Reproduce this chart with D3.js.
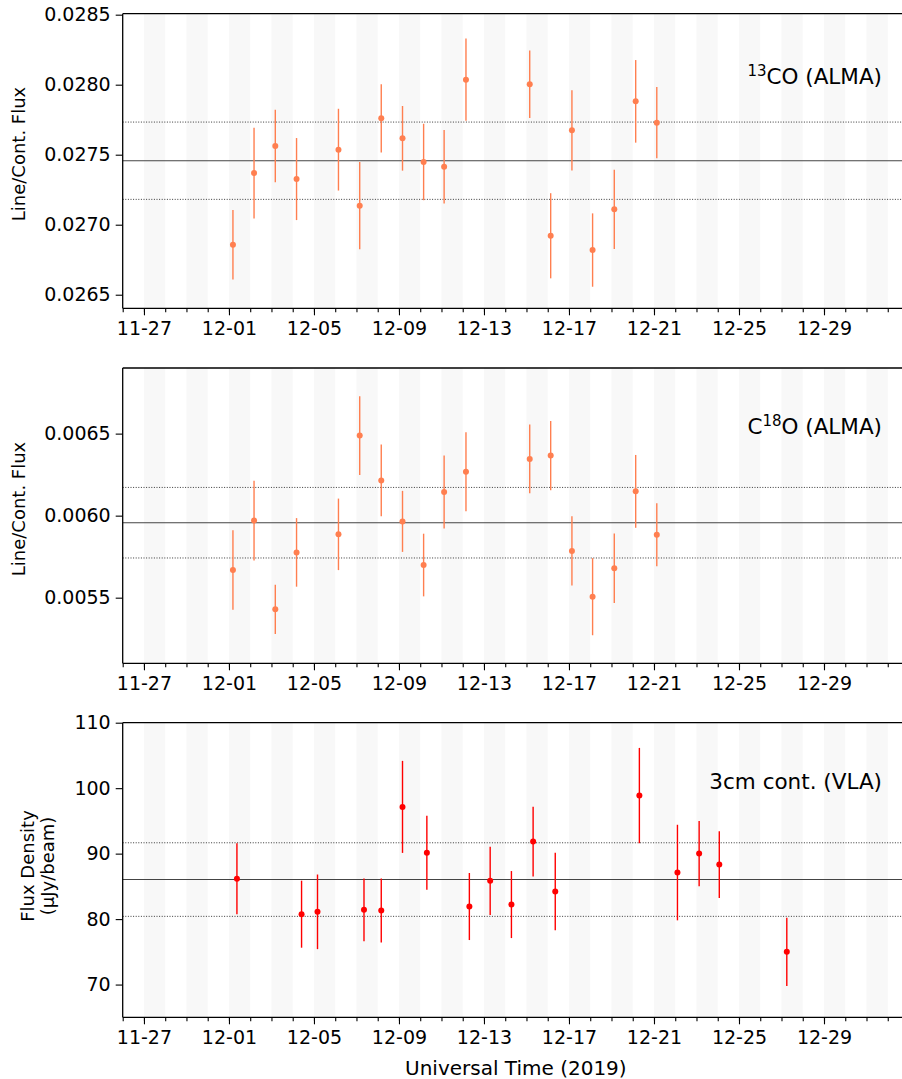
<!DOCTYPE html>
<html><head><meta charset="utf-8">
<script src="https://cdn.jsdelivr.net/npm/d3@7"></script>
<style>
html,body{margin:0;padding:0;background:#fff;}
svg{display:block;font-family:"DejaVu Sans",sans-serif;}
</style></head>
<body><svg id="chart" width="902" height="1079"></svg>
<script>
// ---------- data ----------
const almaDates = ["2019-12-01T04:30","2019-12-02T04:20","2019-12-03T04:20","2019-12-04T04:20",
  "2019-12-06T03:40","2019-12-07T03:40","2019-12-08T04:00","2019-12-09T04:00","2019-12-10T03:50",
  "2019-12-11T03:00","2019-12-12T03:40","2019-12-15T03:40","2019-12-16T03:20","2019-12-17T03:20",
  "2019-12-18T02:40","2019-12-19T03:10","2019-12-20T03:20","2019-12-21T03:10"];
const co13Values = [0.026857,0.027369,0.027562,0.027326,0.027536,0.027136,0.027760,0.027617,0.027448,
  0.027414,0.028036,0.028003,0.026921,0.027674,0.026819,0.027110,0.027881,0.027729];
const co13Errors = [0.000248,0.000324,0.000259,0.000293,0.000292,0.000312,0.000244,0.000231,0.000273,
  0.000263,0.000293,0.000241,0.000304,0.000287,0.000262,0.000283,0.000295,0.000254];
const c18oValues = [0.005669,0.005970,0.005429,0.005776,0.005886,0.006488,0.006215,0.005965,0.005699,
  0.006144,0.006268,0.006346,0.006366,0.005785,0.005506,0.005679,0.006148,0.005884];
const c18oErrors = [0.000242,0.000243,0.000150,0.000209,0.000218,0.000240,0.000219,0.000186,0.000191,
  0.000223,0.000241,0.000210,0.000211,0.000211,0.000235,0.000212,0.000222,0.000192];
const vlaDates = ["2019-12-01T09:00","2019-12-04T10:00","2019-12-05T04:00","2019-12-07T08:30",
  "2019-12-08T04:00","2019-12-09T04:00","2019-12-10T07:30","2019-12-12T07:30","2019-12-13T07:00",
  "2019-12-14T07:00","2019-12-15T07:30","2019-12-16T08:30","2019-12-20T07:30","2019-12-22T02:30",
  "2019-12-23T03:00","2019-12-24T01:45","2019-12-27T06:00"];
const vlaValues = [86.15,80.75,81.11,81.41,81.31,97.14,90.12,81.92,85.84,82.22,91.84,84.21,98.87,87.11,90.01,88.33,75.0];
const vlaErrors = [5.42,5.12,5.70,4.78,4.89,7.03,5.65,5.12,5.22,5.12,5.32,5.93,7.28,7.30,4.99,5.09,5.22];
const co13Mean = 0.027457, co13Std = 0.000276;
const c18oMean = 0.005957, c18oStd = 0.000215;
const vlaMean = 86.04, vlaStd = 5.62;
const co13Ticks = [0.0265,0.0270,0.0275,0.0280,0.0285];
const c18oTicks = [0.0055,0.0060,0.0065];
const vlaTicks = [70,80,90,100,110];
const xStart = "2019-11-26", xEnd = "2020-01-02", majorTickStart = "2019-11-27";

// ---------- layout ----------
const svg = d3.select("#chart");
const left = 122.7, right = 909;
const parse = d3.utcParse("%Y-%m-%dT%H:%M");
const parseDay = d3.utcParse("%Y-%m-%d");
const x = d3.scaleUtc().domain([parseDay(xStart), parseDay(xEnd)]).range([left, right]);
const bandStarts = d3.utcDay.range(parseDay(majorTickStart), parseDay(xEnd)).filter((d,i)=>i%2===0);
const majorTicks = d3.utcDay.range(parseDay(majorTickStart), parseDay(xEnd)).filter((d,i)=>i%4===0);
const minorTicks = d3.utcDay.range(parseDay(xStart), parseDay(xEnd));

const panels = [
  {top:13.7, bottom:308.3, domain:[0.026403,0.028507], ticks:co13Ticks, fmt:d3.format(".4f"),
   dates:almaDates, vals:co13Values, errs:co13Errors, mean:co13Mean, std:co13Std, color:"#ff7f50",
   label:["Line/Cont. Flux"], labelY:154, sup:["", "13", "CO (ALMA)"], annY:84},
  {top:368, bottom:663.3, domain:[0.0051,0.0069], ticks:c18oTicks, fmt:d3.format(".4f"),
   dates:almaDates, vals:c18oValues, errs:c18oErrors, mean:c18oMean, std:c18oStd, color:"#ff7f50",
   label:["Line/Cont. Flux"], labelY:509, sup:["C", "18", "O (ALMA)"], annY:434},
  {top:722.7, bottom:1017.3, domain:[65,110], ticks:vlaTicks, fmt:d3.format("d"),
   dates:vlaDates, vals:vlaValues, errs:vlaErrors, mean:vlaMean, std:vlaStd, color:"#ff0000",
   label:["Flux Density","(μJy/beam)"], labelY:866, sup:null, ann:"3cm cont. (VLA)", annY:789}
];

panels.forEach((p, pi) => {
  const y = d3.scaleLinear().domain(p.domain).range([p.bottom, p.top]);
  const g = svg.append("g");
  // bands
  g.selectAll("rect.band").data(bandStarts).join("rect")
    .attr("x", d => x(d)).attr("width", d => x(d3.utcDay.offset(d,1)) - x(d))
    .attr("y", p.top).attr("height", p.bottom - p.top).attr("fill", "#f8f8f8");
  // reference lines
  g.append("line").attr("x1", left).attr("x2", right).attr("y1", y(p.mean)).attr("y2", y(p.mean))
    .attr("stroke", "#444").attr("stroke-width", 1.1);
  [p.mean + p.std, p.mean - p.std].forEach(v => {
    g.append("line").attr("x1", left).attr("x2", right).attr("y1", y(v)).attr("y2", y(v))
      .attr("stroke", "#222").attr("stroke-width", 0.9).attr("stroke-dasharray", "1,1.6");
  });
  // error bars + points
  const pts = p.dates.map((d,i) => ({d: parse(d), v: p.vals[i], e: p.errs[i]}));
  g.selectAll("line.err").data(pts).join("line")
    .attr("x1", d => x(d.d)).attr("x2", d => x(d.d))
    .attr("y1", d => y(d.v - d.e)).attr("y2", d => y(d.v + d.e))
    .attr("stroke", p.color).attr("stroke-width", 1.4);
  g.selectAll("circle").data(pts).join("circle")
    .attr("cx", d => x(d.d)).attr("cy", d => y(d.v)).attr("r", 3).attr("fill", p.color);
  // axes
  const yAxis = d3.axisLeft(y).tickValues(p.ticks).tickFormat(p.fmt).tickSize(7).tickPadding(5);
  const ya = g.append("g").attr("transform", `translate(${left},0)`).call(yAxis);
  const xMinor = d3.axisBottom(x).tickValues(minorTicks).tickFormat("").tickSize(4);
  g.append("g").attr("transform", `translate(0,${p.bottom})`).call(xMinor).call(s=>s.select(".domain").remove());
  const xAxis = d3.axisBottom(x).tickValues(majorTicks).tickFormat(d3.utcFormat("%m-%d")).tickSize(7).tickPadding(6);
  const xa = g.append("g").attr("transform", `translate(0,${p.bottom})`).call(xAxis);
  [ya, xa].forEach(a => {
    a.selectAll("text").attr("font-size", 19).attr("font-family", "DejaVu Sans").attr("fill", "#000");
  });
  g.selectAll(".tick line").attr("stroke", "#000").attr("stroke-width", 1.1);
  // spines
  g.append("line").attr("x1", left).attr("x2", left).attr("y1", p.top).attr("y2", p.bottom).attr("stroke", "#000").attr("stroke-width", 1.3);
  g.append("line").attr("x1", left).attr("x2", right).attr("y1", p.top).attr("y2", p.top).attr("stroke", "#000").attr("stroke-width", 1.3);
  g.append("line").attr("x1", left).attr("x2", right).attr("y1", p.bottom).attr("y2", p.bottom).attr("stroke", "#000").attr("stroke-width", 1.3);
  g.selectAll(".domain").remove();
  // y label
  const lt = g.append("text").attr("transform", `translate(${p.label.length>1?34:25},${p.labelY}) rotate(-90)`)
    .attr("text-anchor", "middle").attr("font-size", 18).attr("fill", "#000");
  p.label.forEach((s, i) => lt.append("tspan").attr("x", 0).attr("dy", i === 0 ? 0 : "1.1em").text(s));
  // annotation
  const at = g.append("text").attr("x", 882).attr("y", p.annY).attr("text-anchor", "end")
    .attr("font-size", 21.5).attr("fill", "#000");
  if (p.sup) {
    if (p.sup[0]) at.append("tspan").text(p.sup[0]);
    at.append("tspan").attr("font-size", 15).attr("dy", -8).text(p.sup[1]);
    at.append("tspan").attr("dy", 8).text(p.sup[2]);
  } else {
    at.text(p.ann);
  }
});

svg.append("text").attr("x", (left + right) / 2).attr("y", 1075).attr("text-anchor", "middle")
  .attr("font-size", 20).attr("fill", "#000").text("Universal Time (2019)");
</script>
</body></html>
